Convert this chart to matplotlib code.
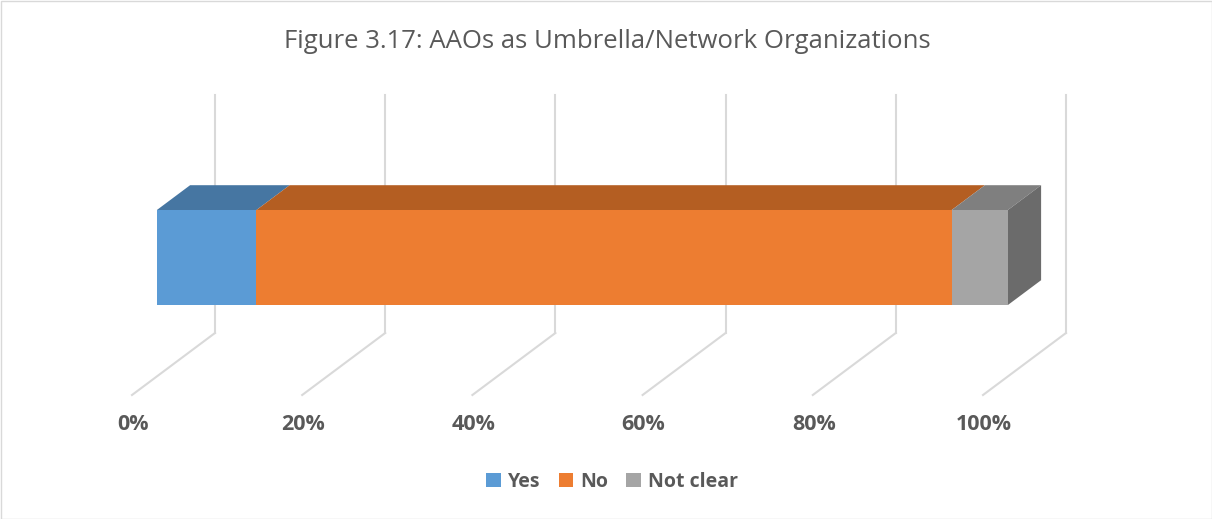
import matplotlib
matplotlib.use("Agg")
import matplotlib.pyplot as plt
from matplotlib.patches import Polygon, Rectangle, Patch

plt.rcParams["font.family"] = ["Open Sans", "DejaVu Sans"]

# data
categories = ["Yes", "No", "Not clear"]
shares = [11.7, 81.7, 6.6]          # percent of AAOs
ticks = [0, 20, 40, 60, 80, 100]
front_colors = ["#5b9bd5", "#ed7d31", "#a5a5a5"]
top_colors = ["#4676a2", "#b45e22", "#7f7f7f"]
side_color = "#6b6b6b"

# fake-3D layout, in pixels
X0, PX = 132, 8.51          # 0% on front floor edge, px per percent
DX, DY = 83, 62             # depth shift front -> back
FLOOR_Y, WALL_TOP = 395, 95
BAR_D0, BAR_D1 = 0.3, 0.7   # bar depth range
BAR_H0, BAR_H1 = 71.4, 166.4
GRID = "#d9d9d9"
TXT = "#595959"


def proj(p, h, d):
    return (X0 + p * PX + d * DX, FLOOR_Y - d * DY - h)


fig = plt.figure(figsize=(12.12, 5.19), dpi=100)
ax = fig.add_axes([0, 0, 1, 1])
ax.set_xlim(0, 1212); ax.set_ylim(519, 0); ax.axis("off")

ax.add_patch(Rectangle((0.5, 0.5), 1211, 518, fill=False, ec=GRID, lw=1))

# gridlines: back wall vertical + floor diagonal
for t in ticks:
    bx, by = proj(t, 0, 1)
    fx, fy = proj(t, 0, 0)
    ax.plot([bx, bx], [WALL_TOP, by], color=GRID, lw=1.5, zorder=1)
    ax.plot([bx, fx], [by, fy], color=GRID, lw=1.5, zorder=1)
    ax.text(fx + 1, fy + 30, f"{t}%", ha="center", va="center",
            fontsize=15.5, fontweight="bold", color=TXT)

# stacked bar
left = 0
for val, fc, tc in zip(shares, front_colors, top_colors):
    right = left + val
    front = [proj(left, BAR_H0, BAR_D0), proj(right, BAR_H0, BAR_D0),
             proj(right, BAR_H1, BAR_D0), proj(left, BAR_H1, BAR_D0)]
    top = [proj(left, BAR_H1, BAR_D0), proj(right, BAR_H1, BAR_D0),
           proj(right, BAR_H1, BAR_D1), proj(left, BAR_H1, BAR_D1)]
    ax.add_patch(Polygon(top, closed=True, fc=tc, ec="none", zorder=3))
    ax.add_patch(Polygon(front, closed=True, fc=fc, ec="none", zorder=4))
    left = right
side = [proj(left, BAR_H0, BAR_D0), proj(left, BAR_H1, BAR_D0),
        proj(left, BAR_H1, BAR_D1), proj(left, BAR_H0, BAR_D1)]
ax.add_patch(Polygon(side, closed=True, fc=side_color, ec="none", zorder=3))

ax.text(607, 42, "Figure 3.17: AAOs as Umbrella/Network Organizations",
        ha="center", va="center", fontsize=18.5, color=TXT)

handles = [Patch(fc=c, ec="none", label=l) for c, l in zip(front_colors, categories)]
fig.legend(handles=handles, loc="center", bbox_to_anchor=(0.505, 0.071), ncol=3,
           frameon=False, prop={"size": 14, "weight": "bold"}, labelcolor=TXT,
           handlelength=0.75, handleheight=0.75, handletextpad=0.35, columnspacing=0.95)

fig.savefig("out.png", dpi=100)
